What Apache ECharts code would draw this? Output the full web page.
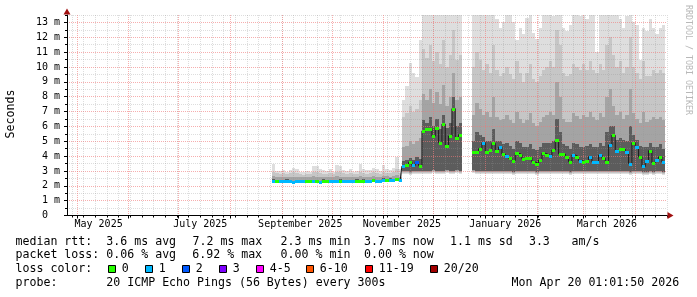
<!DOCTYPE html>
<html><head><meta charset="utf-8">
<script src="https://cdn.jsdelivr.net/npm/echarts@6/dist/echarts.min.js"></script>
<style>html,body{margin:0;padding:0;background:#fff}#c{width:697px;height:297px}</style>
</head><body><div id="c"></div>
<script>
// ---------- data ----------
const xStart = '2025-04-25T01:01:50Z';
const xEnd = '2026-04-20T01:01:50Z';
const binStart = '2025-08-26T00:00:00Z';   // first 2-day bin
const binDays = 2;

const median = [
  2.35,2.3,2.32,2.3,2.33,2.3,2.28,2.3,2.32,2.3, 2.35,2.3,2.32,2.3,2.28,2.33,2.3,2.3,2.32,2.35,
  2.33,2.3,2.3,2.32,2.3,2.33,2.35,2.33,2.3,2.32, 2.38,2.35,2.35,2.4,2.42,2.4,2.38,2.45,2.42,
  3.33,3.42,3.58,3.37,3.62,3.35,
  5.7,5.8,5.85,5.35,5.9,4.9,6.15,4.7,5.35,7.2,5.25,5.45,
  null,null,null,
  4.3,4.3,4.5,4.9,4.3,4.4,4.85,4.35,4.6,4.14, 4.0,3.85,3.7,4.2,4.1,3.8,3.85,3.9,3.6,3.5,
  3.74,4.19,4.1,4.0,4.41,5.1,4.14,4.14,3.96,3.62, 4.07,3.96,3.7,3.6,3.7,3.96,3.62,3.62,4.07,3.85,
  3.62,4.75,5.4,4.37,4.46,4.46,4.3,3.5,4.9,4.6, 3.95,3.3,3.7,4.37,3.55,3.75,3.95,3.6
];
const loss = [
  1,0,1,1,1,1,1,1,1,1, 0,0,1,0,1,0,0,1,1,1, 0,1,1,1,1,0,0,0,1,1, 0,1,1,1,0,1,1,0,1,
  1,0,0,1,2,0,
  0,0,0,0,0,0,0,0,0,0,0,0,
  null,null,null,
  0,0,0,1,0,0,0,0,1,0, 1,0,0,0,0,0,0,0,0,0, 0,0,0,1,0,0,0,0,0,0, 1,0,1,0,0,1,1,1,1,0,
  0,1,0,1,0,0,1,1,0,1, 0,1,1,0,0,1,0,1
];
const smokeLo = [
  2.2,2.2,2.22,2.2,2.22,2.2,2.18,2.2,2.22,2.2, 2.24,2.2,2.22,2.2,2.18,2.22,2.2,2.2,2.22,2.24,
  2.22,2.2,2.2,2.22,2.2,2.22,2.24,2.22,2.2,2.22, 2.26,2.24,2.24,2.28,2.3,2.28,2.26,2.32,2.3,
  2.8,2.78,2.75,2.78,2.8,2.8,
  2.82,2.8,2.82,2.85,2.8,2.82,2.8,2.84,2.82,2.8,2.85,2.82,
  null,null,null,
  2.85,2.8,2.8,2.82,2.8,2.78,2.8,2.8,2.82,2.78, 2.8,2.78,2.75,2.8,2.8,2.78,2.8,2.8,2.78,2.75,
  2.78,2.8,2.8,2.8,2.8,2.82,2.8,2.8,2.78,2.75, 2.8,2.8,2.78,2.78,2.8,2.8,2.78,2.78,2.8,2.78,
  2.8,2.82,2.82,2.8,2.8,2.8,2.8,2.75,2.8,2.8, 2.78,2.72,2.75,2.78,2.75,2.78,2.78,2.75
];
const smokeU1 = [
  2.45,2.42,2.42,2.42,2.43,2.42,2.4,2.42,2.42,2.42, 2.45,2.42,2.42,2.42,2.4,2.43,2.42,2.42,2.42,2.45,
  2.43,2.42,2.42,2.42,2.42,2.43,2.45,2.43,2.42,2.42, 2.48,2.45,2.45,2.5,2.52,2.5,2.48,2.55,2.52,
  3.7,3.75,3.9,3.75,3.95,3.8,
  6.4,6.2,6.6,6.0,6.5,5.8,6.8,5.9,6.2,8.0,6.0,6.2,
  null,null,null,
  5.0,5.6,5.4,5.3,5.0,5.0,5.8,5.0,5.0,4.8, 4.9,4.7,4.5,5.0,4.9,4.6,4.6,4.8,4.5,4.4,
  4.6,4.9,4.9,4.9,5.0,6.5,5.6,4.8,4.7,4.5, 4.9,4.8,4.6,4.6,4.7,4.8,4.6,4.6,4.9,4.7,
  5.6,6.0,6.0,5.1,5.2,5.1,5.0,6.0,5.4,5.1, 4.7,4.6,4.6,4.9,4.6,4.6,4.8,4.5
];
const smokeU2 = [
  2.65,2.6,2.6,2.6,2.58,2.6,2.62,2.6,2.58,2.56, 2.6,2.58,2.65,2.62,2.6,2.6,2.58,2.6,2.58,2.64,
  2.62,2.6,2.58,2.6,2.58,2.6,2.66,2.62,2.6,2.6, 2.64,2.62,2.6,2.66,2.64,2.62,2.64,2.72,2.62,
  4.6,4.7,5.0,4.8,5.0,5.2,
  8.2,7.8,8.5,7.6,8.3,7.5,8.8,7.4,8.0,9.6,7.8,8.0,
  null,null,null,
  6.8,7.6,7.2,6.8,7.0,6.6,8.0,6.6,6.4,6.5, 6.8,6.4,6.2,7.0,6.5,6.2,6.4,6.9,6.2,6.0,
  6.3,6.6,6.8,7.0,6.8,9.0,8.0,6.5,6.3,6.3, 6.9,6.7,6.5,6.8,6.6,7.0,6.6,6.4,6.9,6.6,
  8.0,8.5,7.4,6.8,7.0,6.5,6.8,8.5,6.9,6.5, 6.2,7.0,6.3,6.4,6.6,6.5,6.6,6.4
];
const smokeU3 = [
  2.95,2.85,2.8,2.85,2.8,2.85,2.9,2.85,2.8,2.75, 2.8,2.8,2.9,2.9,2.85,2.8,2.8,2.85,2.8,2.9,
  2.9,2.85,2.8,2.85,2.8,2.8,2.95,2.85,2.8,2.85, 2.9,2.85,2.8,2.9,2.85,2.85,2.9,3.1,2.85,
  6.6,6.9,7.4,7.0,7.2,7.8,
  11.2,10.6,11.5,10.4,11.0,10.2,11.8,10.0,10.8,12.5,10.5,10.8,
  null,null,null,
  10.0,11.0,10.5,9.8,10.2,9.6,11.5,9.8,9.4,9.6, 10.0,9.5,9.2,10.4,9.6,9.0,9.6,10.2,9.2,9.0,
  9.4,9.8,10.0,10.4,10.0,12.5,11.5,9.6,9.4,9.5, 10.2,10.0,9.8,10.2,9.8,10.4,9.8,9.6,10.2,9.8,
  11.5,12.0,10.8,10.0,10.4,9.6,10.0,12.0,10.0,9.6, 9.2,10.4,9.4,9.4,9.8,9.6,9.8,9.6
];
const smokeHi = [
  3.5,3.0,3.0,3.05,2.95,3.05,3.2,3.15,2.95,2.9, 3.0,2.95,3.35,3.3,3.1,3.05,3.0,3.1,2.95,3.4,
  3.35,3.05,3.0,3.1,2.95,3.0,3.5,3.1,3.05,3.05, 3.2,3.1,3.0,3.4,3.1,3.05,3.2,3.95,3.1,
  7.8,8.7,10.3,9.6,9.3,11.8,
  14,14,14,14,14,14,14,14,14,14,14,14,
  null,null,null,
  14,14,14,14,14,14,14,13.2,12.6,13.0, 14,14,13.0,11.8,12.6,12.2,13.3,14,12.3,11.9,
  12.6,14,14,14,13.4,14,14,12.6,12.4,12.8, 14,14,13.4,14,13.2,14,13.6,11.0,14,14,
  13.5,14,14,13.8,13.2,12.6,13.4,14,13.0,12.8, 10.5,12.6,12.4,13.2,12.6,12.2,12.6,12.8
];

const yTickValues = [0,1,2,3,4,5,6,7,8,9,10,11,12,13];
const yTickLabels = ['0  ','1 m','2 m','3 m','4 m','5 m','6 m','7 m','8 m','9 m','10 m','11 m','12 m','13 m'];
const xLabelDates = ['2025-05-14','2025-07-14','2025-09-12','2025-11-12','2026-01-13','2026-03-15'];
const xLabels = ['May 2025','July 2025','September 2025','November 2025','January 2026','March 2026'];

const lossColors = ['#26ff00','#00b8ff','#0059ff','#7e00ff','#ff00ff','#ff5500','#ff0000','#a10000'];
const lossLabels = ['0','1','2','3','4-5','6-10','11-19','20/20'];

const statsRtt = ['median rtt:','3.6 ms avg','7.2 ms max','2.3 ms min','3.7 ms now','1.1 ms sd','3.3','am/s'];
const statsLoss = ['packet loss:','0.06 % avg','6.92 % max','0.00 % min','0.00 % now'];
const probeText = ['probe:','20 ICMP Echo Pings (56 Bytes) every 300s','Mon Apr 20 01:01:50 2026'];

// ---------- build ----------
const DAY = 86400000;
const t0 = Date.parse(xStart), t1 = Date.parse(xEnd);
const b0 = Date.parse(binStart);

const monthStarts = [];
for (let y = 2025, m = 4; !(y === 2026 && m === 4);) {
  monthStarts.push(Date.UTC(y, m, 1));
  m++; if (m === 12) { m = 0; y++; }
}
const weeks = [];
for (let t = Date.UTC(2025, 3, 28); t < t1; t += 7 * DAY) weeks.push(t);
const labelTs = xLabelDates.map(d => Date.parse(d + 'T00:00:00Z'));
const yMinor = yTickValues.map(v => v + 0.5);

const smokeData = [], medData = [], medLine = [];
median.forEach((m, i) => {
  const s = b0 + i * binDays * DAY, e = s + binDays * DAY;
  if (m == null) { medLine.push([(s + e) / 2, null]); return; }
  smokeData.push([s, e, smokeLo[i], smokeU1[i], smokeU2[i], smokeU3[i], smokeHi[i]]);
  medData.push([s, e, m, loss[i]]);
  medLine.push([(s + e) / 2, m]);
});

const FONT = '"DejaVu Sans Mono", monospace';
const smokeCols = ['#dedede', '#c6c6c6', '#a4a4a4', '#5c5c5c'];

function txt(x, y, s, extra) {
  return Object.assign({
    type: 'text', x: x, y: y, silent: true,
    style: { text: s, font: '11.6px ' + FONT, fill: '#000', textAlign: 'left', align: 'left',
             textVerticalAlign: 'middle', verticalAlign: 'middle' }
  }, extra || {});
}

const graphics = [];
const rttX = [15.5, 106.3, 192.5, 280.6, 364, 450, 528.9, 571.6];
statsRtt.forEach((s, i) => graphics.push(txt(rttX[i], 241.5, s)));
const lossX = [15.5, 106.3, 192.3, 280.6, 364];
statsLoss.forEach((s, i) => graphics.push(txt(lossX[i], 255.2, s)));
graphics.push(txt(15.5, 269, 'loss color:'));
const boxX = [108.5, 145.5, 182.5, 219.5, 256.5, 306.5, 365.5, 430.5];
lossLabels.forEach((s, i) => {
  graphics.push({ type: 'rect', silent: true, shape: { x: boxX[i], y: 265.5, width: 7, height: 7 },
    style: { fill: lossColors[i], stroke: '#000', lineWidth: 1 } });
  graphics.push(txt(boxX[i] + 13.3, 269, s));
});
const probeX = [15.5, 106.3, 511.6];
probeText.forEach((s, i) => graphics.push(txt(probeX[i], 282.7, s)));
graphics.push({ type: 'text', x: 10.5, y: 114, rotation: Math.PI / 2, silent: true,
  style: { text: 'Seconds', font: '11.6px ' + FONT, fill: '#000', textAlign: 'center', align: 'center',
           textVerticalAlign: 'middle', verticalAlign: 'middle' } });
graphics.push({ type: 'text', x: 688, y: 60, rotation: -Math.PI / 2, silent: true,
  style: { text: 'RRDTOOL / TOBI OETIKER', font: '8.3px ' + FONT, fill: '#b8b8b8', textAlign: 'center', align: 'center',
           textVerticalAlign: 'middle', verticalAlign: 'middle' } });

const minorGrid = { color: 'rgba(150,150,150,0.32)', width: 1, type: [1, 1] };
const majorGrid = { color: 'rgba(240,120,120,0.6)', width: 1, type: [1, 1] };

const option = {
  animation: false,
  backgroundColor: '#fff',
  grid: { left: 67, top: 15, width: 600, height: 200.5, containLabel: false, outerBoundsMode: 'none' },
  xAxis: [
    { type: 'value', min: t0, max: t1, position: 'bottom', z: 3, scale: true,
      axisLine: { show: false, onZero: false },
      axisTick: { show: true, customValues: weeks, length: 2, lineStyle: { color: '#000' } },
      axisLabel: { show: false },
      splitLine: { show: true, lineStyle: minorGrid } },
    { type: 'value', min: t0, max: t1, position: 'bottom', z: 3, scale: true,
      axisLine: { show: true, onZero: false, lineStyle: { color: '#000', width: 1 } },
      axisTick: { show: true, customValues: monthStarts, length: 3, lineStyle: { color: '#000' } },
      axisLabel: { show: true, customValues: labelTs, margin: 4, color: '#000', fontFamily: FONT, fontSize: 10,
        lineHeight: 10,
        formatter: function (v) { const i = labelTs.indexOf(v); return i >= 0 ? xLabels[i] : ''; } },
      splitLine: { show: true, lineStyle: majorGrid } },
    { type: 'value', min: t0, max: t1, position: 'bottom', z: 4, scale: true,
      axisLine: { show: true, onZero: false, symbol: ['none', 'triangle'], symbolSize: [7, 6], symbolOffset: [0, 3.5],
        lineStyle: { color: '#a01010', width: 0 } },
      axisTick: { show: false }, axisLabel: { show: false }, splitLine: { show: false } }
  ],
  yAxis: [
    { type: 'value', min: 0, max: 13.5, position: 'left', z: 3,
      axisLine: { show: false, onZero: false },
      axisTick: { show: true, customValues: yMinor, length: 2, lineStyle: { color: '#000' } },
      axisLabel: { show: false },
      splitLine: { show: true, lineStyle: minorGrid } },
    { type: 'value', min: 0, max: 13.5, position: 'left', z: 3,
      axisLine: { show: true, onZero: false, lineStyle: { color: '#000', width: 1 } },
      axisTick: { show: true, customValues: yTickValues, length: 3, lineStyle: { color: '#000' } },
      axisLabel: { show: true, customValues: yTickValues, margin: 7, color: '#000', fontFamily: FONT, fontSize: 10,
        formatter: function (v) { const i = yTickValues.indexOf(v); return i >= 0 ? yTickLabels[i] : ''; } },
      splitLine: { show: true, lineStyle: majorGrid } },
    { type: 'value', min: 0, max: 13.5, position: 'left', z: 4,
      axisLine: { show: true, onZero: false, symbol: ['none', 'triangle'], symbolSize: [7, 6], symbolOffset: [0, 3.5],
        lineStyle: { color: '#a01010', width: 0 } },
      axisTick: { show: false }, axisLabel: { show: false }, splitLine: { show: false } }
  ],
  series: [
    { type: 'custom', name: 'smoke', xAxisIndex: 0, yAxisIndex: 0, z: 2, clip: true,
      encode: { x: [0, 1], y: [2, 3, 4, 5, 6] },
      data: smokeData,
      renderItem: function (params, api) {
        const s = api.value(0), e = api.value(1);
        const x0 = Math.round(api.coord([s, 0])[0]);
        const x1 = Math.round(api.coord([e, 0])[0]);
        const yl = Math.round(api.coord([s, api.value(2)])[1]);
        const lv = [api.value(6), api.value(5), api.value(4), api.value(3)];
        const children = lv.map(function (v, k) {
          const yt = Math.round(api.coord([s, v])[1]);
          const yb = yl - k;
          return { type: 'rect', shape: { x: x0, y: yt, width: x1 - x0, height: Math.max(0, yb - yt) },
                   style: { fill: smokeCols[k] } };
        });
        return { type: 'group', children: children };
      } },
    { type: 'line', name: 'median', xAxisIndex: 0, yAxisIndex: 0, z: 4, data: medLine, step: 'middle',
      showSymbol: false, symbol: 'none', connectNulls: false, lineStyle: { color: '#1a1a1a', width: 1 } },
    { type: 'custom', name: 'loss', xAxisIndex: 0, yAxisIndex: 0, z: 5, clip: true,
      encode: { x: [0, 1], y: 2 },
      data: medData,
      renderItem: function (params, api) {
        const s = api.value(0), e = api.value(1);
        const x0 = Math.round(api.coord([s, 0])[0]);
        const x1 = Math.round(api.coord([e, 0])[0]);
        const yc = Math.round(api.coord([s, api.value(2)])[1]);
        return { type: 'rect', shape: { x: x0, y: yc - 1, width: x1 - x0, height: 3 },
                 style: { fill: lossColors[api.value(3)] } };
      } }
  ],
  graphic: graphics
};

const chart = echarts.init(document.getElementById('c'), null, { renderer: 'canvas' });
chart.setOption(option);
</script>
</body></html>
